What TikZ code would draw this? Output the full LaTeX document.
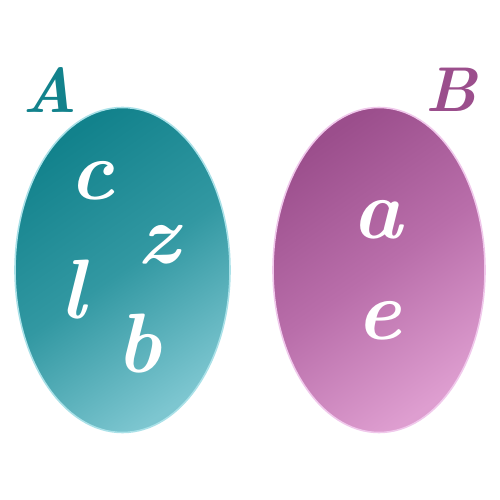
\documentclass[tikz,border=0pt]{standalone}
\usepackage{xcolor}
\usetikzlibrary{shapes.geometric}
\definecolor{tealdark}{RGB}{18,130,140}
\definecolor{tealmid}{RGB}{50,152,162}
\definecolor{teallight}{RGB}{125,198,208}
\definecolor{tealrim}{RGB}{170,225,232}
\definecolor{magdark}{RGB}{155,78,140}
\definecolor{magmid}{RGB}{185,110,170}
\definecolor{maglight}{RGB}{222,158,208}
\definecolor{magrim}{RGB}{240,200,235}
\tikzset{
  blob/.style={ellipse, inner sep=0pt, draw, line width=0.9pt},
  setA/.style={blob, draw=tealrim, top color=tealdark, bottom color=teallight,
    middle color=tealmid, shading angle=35},
  setB/.style={blob, draw=magrim, top color=magdark, bottom color=maglight,
    middle color=magmid, shading angle=35},
  elem/.style={text=white, inner sep=0pt,
    font=\fontsize{48}{48}\selectfont\bfseries\itshape},
  setname/.style={inner sep=0pt, font=\fontsize{36}{36}\selectfont\bfseries\itshape},
}
\begin{document}
\begin{tikzpicture}
\useasboundingbox (0,0) rectangle (10,10);
% the two sets
\node[setA, minimum width=4.3cm, minimum height=6.5cm] (setA) at (2.45,4.6) {};
\node[setB, minimum width=4.24cm, minimum height=6.5cm] (setB) at (7.58,4.6) {};
% names
\node[setname, text=tealdark] (nameA) at (1.0,8.2) {A};
\node[setname, text=magdark]  (nameB) at (9.02,8.2) {B};
% elements of A
\node[elem] (c) at (1.84,6.38) {c};
\node[elem] (z) at (3.16,5.1)  {z};
\node[elem] (l) at (1.46,4.2)  {l};
\node[elem] (b) at (2.78,3.12) {b};
% elements of B
\node[elem] (a) at (7.54,5.6)  {a};
\node[elem] (e) at (7.58,3.58) {e};
\end{tikzpicture}
\end{document}
